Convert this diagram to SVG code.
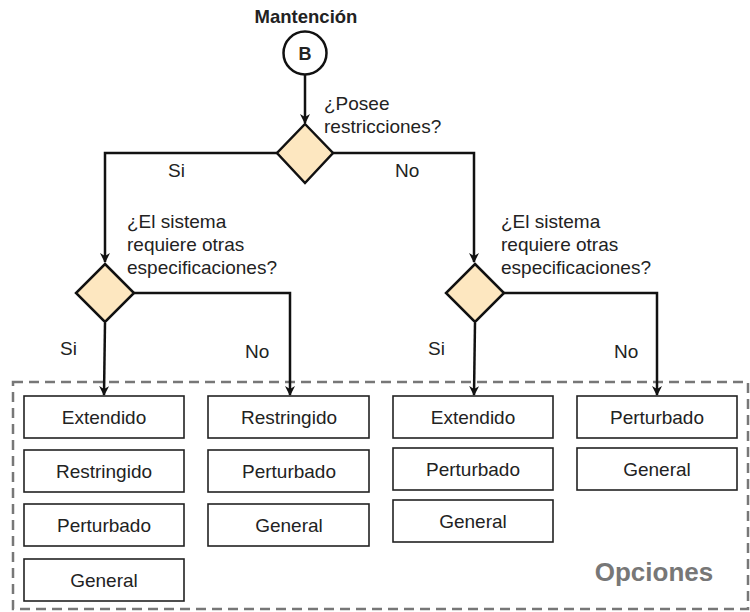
<svg xmlns="http://www.w3.org/2000/svg" width="750" height="612" viewBox="0 0 750 612">
  <style>
    text { font-family: "Liberation Sans", Arial, sans-serif; fill: #222; }
    .lbl { font-size: 19px; }
    .box rect { fill: #fff; stroke: #222; stroke-width: 1.6; }
    .box text { font-size: 19px; text-anchor: middle; }
    .dec { fill: #fde7c0; stroke: #111; stroke-width: 2.5; stroke-linejoin: miter; }
    .edge { fill: none; stroke: #111; stroke-width: 2.5; marker-end: url(#arrow); }
  </style>
  <defs>
    <marker id="arrow" viewBox="0 0 10 10" refX="9" refY="5" markerWidth="10" markerHeight="10" markerUnits="userSpaceOnUse" orient="auto">
      <path d="M0,0 L10,5 L0,10 L3,5 Z" fill="#111"/>
    </marker>
  </defs>
  <rect width="750" height="612" fill="#fff"/>

  <!-- options frame -->
  <g id="opciones">
    <rect x="13" y="382" width="735" height="227" fill="none" stroke="#777" stroke-width="2.5" stroke-dasharray="10,6"/>
    <text x="654" y="581" text-anchor="middle" font-size="26" font-weight="bold" style="fill:#777">Opciones</text>
  </g>

  <!-- connectors -->
  <g id="connectors">
    <path class="edge" d="M305,75 L305,123"/>
    <path class="edge" d="M277,153 L105,153 L105,262"/>
    <path class="edge" d="M333,153 L474,153 L474,262"/>
    <path class="edge" d="M105,323 L104,395"/>
    <path class="edge" d="M133,293 L290,293 L290,395"/>
    <path class="edge" d="M475,323 L474,395"/>
    <path class="edge" d="M503,293 L657,293 L657,395"/>
  </g>

  <!-- start -->
  <g id="start">
    <text x="306" y="23" text-anchor="middle" font-size="18.5" font-weight="bold">Mantención</text>
    <circle cx="305" cy="53" r="21.5" fill="#fff" stroke="#111" stroke-width="2.5"/>
    <text x="305" y="60" text-anchor="middle" font-size="18" font-weight="bold">B</text>
  </g>

  <!-- decisions -->
  <g id="d-restricciones">
    <polygon class="dec" points="305,124 333,153 305,183 277,153"/>
    <text class="lbl" x="324" y="110">¿Posee</text>
    <text class="lbl" x="324" y="133">restricciones?</text>
  </g>
  <g id="d-spec-si">
    <polygon class="dec" points="105,264 134,293 105,322 76,293"/>
    <text class="lbl" x="127" y="228">¿El sistema</text>
    <text class="lbl" x="127" y="251">requiere otras</text>
    <text class="lbl" x="127" y="274">especificaciones?</text>
  </g>
  <g id="d-spec-no">
    <polygon class="dec" points="475,264 504,293 475,322 446,293"/>
    <text class="lbl" x="501" y="228">¿El sistema</text>
    <text class="lbl" x="501" y="251">requiere otras</text>
    <text class="lbl" x="501" y="274">especificaciones?</text>
  </g>

  <!-- branch labels -->
  <g id="branch-labels">
    <text class="lbl" x="168" y="177">Si</text>
    <text class="lbl" x="395" y="177">No</text>
    <text class="lbl" x="60" y="355">Si</text>
    <text class="lbl" x="245" y="358">No</text>
    <text class="lbl" x="428" y="355">Si</text>
    <text class="lbl" x="614" y="358">No</text>
  </g>

  <!-- column 1 -->
  <g id="c1-extendido" class="box"><rect x="24" y="396" width="160" height="42"/><text x="104" y="424">Extendido</text></g>
  <g id="c1-restringido" class="box"><rect x="24" y="450" width="160" height="42"/><text x="104" y="478">Restringido</text></g>
  <g id="c1-perturbado" class="box"><rect x="24" y="504" width="160" height="42"/><text x="104" y="532">Perturbado</text></g>
  <g id="c1-general" class="box"><rect x="24" y="559" width="160" height="42"/><text x="104" y="587">General</text></g>

  <!-- column 2 -->
  <g id="c2-restringido" class="box"><rect x="208" y="396" width="161" height="42"/><text x="289" y="424">Restringido</text></g>
  <g id="c2-perturbado" class="box"><rect x="208" y="450" width="161" height="42"/><text x="289" y="478">Perturbado</text></g>
  <g id="c2-general" class="box"><rect x="208" y="504" width="161" height="42"/><text x="289" y="532">General</text></g>

  <!-- column 3 -->
  <g id="c3-extendido" class="box"><rect x="393" y="396" width="160" height="42"/><text x="473" y="424">Extendido</text></g>
  <g id="c3-perturbado" class="box"><rect x="393" y="448" width="160" height="42"/><text x="473" y="476">Perturbado</text></g>
  <g id="c3-general" class="box"><rect x="393" y="500" width="160" height="42"/><text x="473" y="528">General</text></g>

  <!-- column 4 -->
  <g id="c4-perturbado" class="box"><rect x="577" y="396" width="160" height="42"/><text x="657" y="424">Perturbado</text></g>
  <g id="c4-general" class="box"><rect x="577" y="448" width="160" height="42"/><text x="657" y="476">General</text></g>
</svg>
